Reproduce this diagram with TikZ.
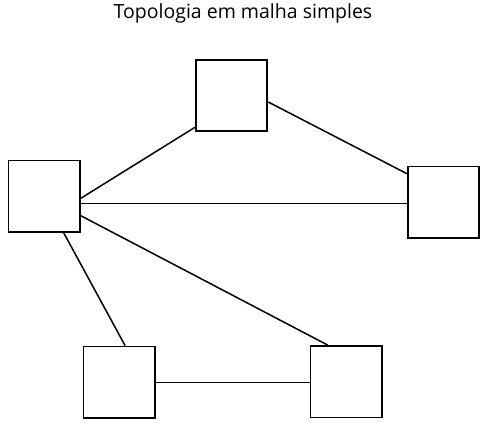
\documentclass[tikz,border=0pt]{standalone}
\usepackage{fontspec}
\setmainfont{Open Sans}
\begin{document}
\begin{tikzpicture}[x=1pt, y=-1pt, thick, main/.style = {draw, rectangle, line width=1.8pt, inner sep=0pt, minimum size=71.5pt},
		link/.style={line width=1.5pt}] 
		
		\useasboundingbox (0,0) rectangle (484,426);
		
		\node[anchor=base, font=\fontsize{19.5}{22}\selectfont] (t) at (243,18.5) {Topologia em malha simples};
		
		\node[main] (1) at (231.5,95.5) {};
		\node[main] (2) at (44.3,196.3) {};
		\node[main] (3) at (443.5,202.3) {};
		\node[main] (4) at (119.3,382.3) {};
		\node[main] (5) at (346.3,381.7) {};
		
		\draw[link] (2.-3) to (1.221);
		\draw[link] (1.-10) to (3.142);
		\draw[link] (2.-11) to (2.-11 -| 3.west);
		\draw[link] (2.-28) to (5.117);
		\draw[link] (2.-62) to (4.81);
		\draw[link] (4.east) to (4.east -| 5.west);
		
	\end{tikzpicture}
\end{document}
